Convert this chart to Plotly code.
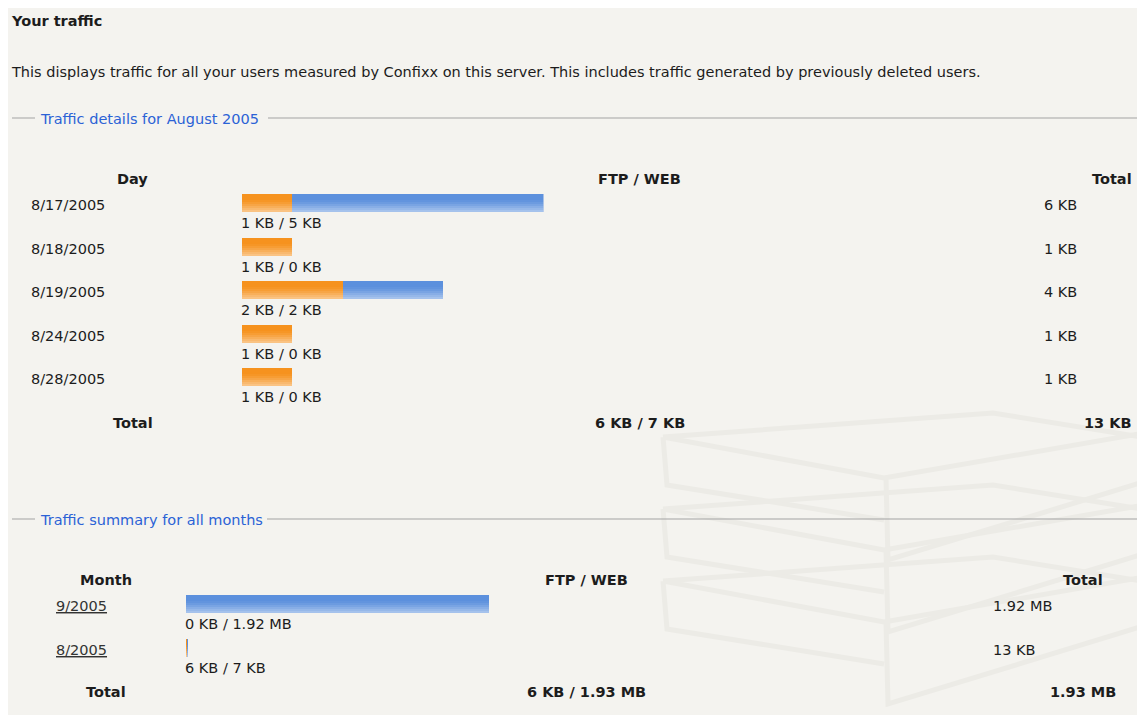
import plotly.graph_objects as go

# the page body adds an 8px margin, so the figure is a little smaller than the window
OFF = 8
W, H = 1145 - OFF, 715 - OFF

# ---------------- data ----------------
days = ["8/17/2005", "8/18/2005", "8/19/2005", "8/24/2005", "8/28/2005"]
day_ftp_kb = [1, 1, 2, 1, 1]
day_web_kb = [5, 0, 2, 0, 0]

months = ["9/2005", "8/2005"]
month_ftp_kb = [0, 6]
month_web_kb = [1966, 7]

FONT = "DejaVu Sans"
FS = 14.5
TXT = "#1c1c1c"
ORANGE = "#f6921e"
BLUE = "#5c90dd"
LEG = "#2b62d6"
BG = "#f4f3ef"
SH = {"left": -3, "right": 3, "center": 0}


def fmt(kb):
    if kb >= 1024:
        return f"{kb / 1024:.2f} MB"
    return f"{kb:g} KB"


def px(x):
    return (x - OFF) / W


def py(y):
    return 1 - (y - OFF) / H


fig = go.Figure()

ROW1 = 43.6
ROW2 = 43.8
BW1 = 18 / ROW1
BW2 = 18 / ROW2
ALPHAS = [0.0, 0.0, 0.0, 0.04, 0.1, 0.18, 0.27, 0.36, 0.45]
NB = len(ALPHAS)


def add_bars(cats, ftp, web, bw, xa, ya):
    tot = [f + w for f, w in zip(ftp, web)]
    fig.add_trace(go.Bar(y=cats, x=ftp, base=[0] * len(cats), orientation="h",
                         width=bw, marker=dict(color=ORANGE, line=dict(width=0)),
                         xaxis=xa, yaxis=ya, hoverinfo="skip", showlegend=False))
    fig.add_trace(go.Bar(y=cats, x=web, base=ftp, orientation="h",
                         width=bw, marker=dict(color=BLUE, line=dict(width=0)),
                         xaxis=xa, yaxis=ya, hoverinfo="skip", showlegend=False))
    # vertical gradient (lighter towards the bottom)
    for i, a in enumerate(ALPHAS):
        if a == 0:
            continue
        fig.add_trace(go.Bar(y=cats, x=tot, base=[0] * len(cats), orientation="h",
                             width=bw / NB, offset=-bw / 2 + i * bw / NB,
                             marker=dict(color=f"rgba(255,255,255,{a})", line=dict(width=0)),
                             xaxis=xa, yaxis=ya, hoverinfo="skip", showlegend=False))


add_bars(days, day_ftp_kb, day_web_kb, BW1, "x", "y")
add_bars(months, month_ftp_kb, month_web_kb, BW2, "x2", "y2")

shapes = []
# page panel
shapes.append(dict(type="rect", xref="paper", yref="paper", x0=0, x1=1, y0=0, y1=1,
                   fillcolor=BG, line=dict(width=0), layer="below"))

# faint watermark (stacked boxes)
WM = "#ecebe6"
for k, dy in enumerate([0, 72, 144]):
    p = (f"M {px(663)},{py(437+dy)} L {px(993)},{py(413+dy)} L {px(1160)},{py(440+dy)} "
         f"M {px(663)},{py(437+dy)} L {px(884)},{py(478+dy)} L {px(1150)},{py(432+dy)} "
         f"M {px(663)},{py(437+dy)} L {px(667)},{py(485+dy)} L {px(884)},{py(520+dy)} "
         f"M {px(886)},{py(478+dy)} L {px(888)},{py(560+dy)} L {px(1150)},{py(480+dy)} "
         f"M {px(1140)},{py(455+dy)} L {px(1140)},{py(488+dy)}")
    shapes.append(dict(type="path", xref="paper", yref="paper", path=p,
                       line=dict(color=WM, width=5), layer="below"))

# fieldset lines
for yv, x_after in [(118, 268), (519, 267)]:
    shapes.append(dict(type="line", xref="paper", yref="paper", x0=px(12), x1=px(35),
                       y0=py(yv), y1=py(yv), line=dict(color="#a3a3a3", width=1)))
    shapes.append(dict(type="line", xref="paper", yref="paper", x0=px(x_after), x1=1,
                       y0=py(yv), y1=py(yv), line=dict(color="#a3a3a3", width=1)))

ann = []


def T(text, x, y, anchor="left", bold=False, color=TXT, size=FS):
    ann.append(dict(text=f"<b>{text}</b>" if bold else text, xref="paper", yref="paper",
                    x=px(x), y=py(y), xanchor=anchor, yanchor="middle", showarrow=False,
                    xshift=SH[anchor], font=dict(family=FONT, size=size, color=color)))


def R(text, xref, x, yref, cat, yshift, color=TXT):
    ann.append(dict(text=text, xref=xref, yref=yref, x=x, y=cat, yshift=yshift, xshift=-3,
                    xanchor="left", yanchor="middle", showarrow=False,
                    font=dict(family=FONT, size=FS, color=color)))


T("Your traffic", 12, 21, bold=True)
T("This displays traffic for all your users measured by Confixx on this server. "
  "This includes traffic generated by previously deleted users.", 12, 72)
T("Traffic details for August 2005", 41, 119, color=LEG)
T("Traffic summary for all months", 41, 520, color=LEG)

# ---- top table ----
T("Day", 132, 179, anchor="center", bold=True)
T("FTP / WEB", 639, 179, anchor="center", bold=True)
T("Total", 1131, 179, anchor="right", bold=True)
for d, f, w in zip(days, day_ftp_kb, day_web_kb):
    R(d, "paper", px(32), "y", d, -2)
    R(f"{fmt(f)} / {fmt(w)}", "x", 0, "y", d, -20)
    R(fmt(f + w), "paper", px(1045), "y", d, -2)
T("Total", 133, 423, anchor="center", bold=True)
T(f"{fmt(sum(day_ftp_kb))} / {fmt(sum(day_web_kb))}", 640, 423, anchor="center", bold=True)
T(fmt(sum(day_ftp_kb) + sum(day_web_kb)), 1131, 423, anchor="right", bold=True)

# ---- bottom table ----
T("Month", 106, 580, anchor="center", bold=True)
T("FTP / WEB", 586, 580, anchor="center", bold=True)
T("Total", 1083, 580, anchor="center", bold=True)
for m, f, w in zip(months, month_ftp_kb, month_web_kb):
    R(f"<u>{m}</u>", "paper", px(57), "y2", m, -2, color="#333333")
    R(f"{fmt(f)} / {fmt(w)}", "x2", 0, "y2", m, -20)
    R(fmt(f + w), "paper", px(994), "y2", m, -2)
T("Total", 106, 692, anchor="center", bold=True)
T(f"{fmt(sum(month_ftp_kb))} / {fmt(sum(month_web_kb))}", 586, 692, anchor="center", bold=True)
T(fmt(sum(month_ftp_kb) + sum(month_web_kb)), 1083, 692, anchor="center", bold=True)

# axes: top rows centred at 203 + k*43.6 px; bottom rows at 604 + k*43.8 px
y1_top, y1_bot = 203 - ROW1 / 2, 203 + ROW1 * 4.5
y2_top, y2_bot = 604 - ROW2 / 2, 604 + ROW2 * 1.5

ax_common = dict(visible=False, showgrid=False, zeroline=False, fixedrange=True)
fig.update_layout(
    width=W, height=H, autosize=False,
    margin=dict(l=0, r=0, t=0, b=0, pad=0),
    paper_bgcolor=BG, plot_bgcolor="rgba(0,0,0,0)",
    barmode="overlay", bargap=0,
    showlegend=False,
    xaxis=dict(domain=[px(242), px(543.5)], range=[0, 6], anchor="y", **ax_common),
    yaxis=dict(domain=[py(y1_bot), py(y1_top)], type="category", categoryarray=days,
               categoryorder="array", range=[4.5, -0.5], anchor="x", **ax_common),
    xaxis2=dict(domain=[px(186), px(489)], range=[0, 1966], anchor="y2", **ax_common),
    yaxis2=dict(domain=[py(y2_bot), py(y2_top)], type="category", categoryarray=months,
                categoryorder="array", range=[1.5, -0.5], anchor="x2", **ax_common),
    shapes=shapes,
    annotations=ann,
    font=dict(family=FONT, size=FS, color=TXT),
)

fig.write_html("out.html", config={"displayModeBar": False, "staticPlot": True})
